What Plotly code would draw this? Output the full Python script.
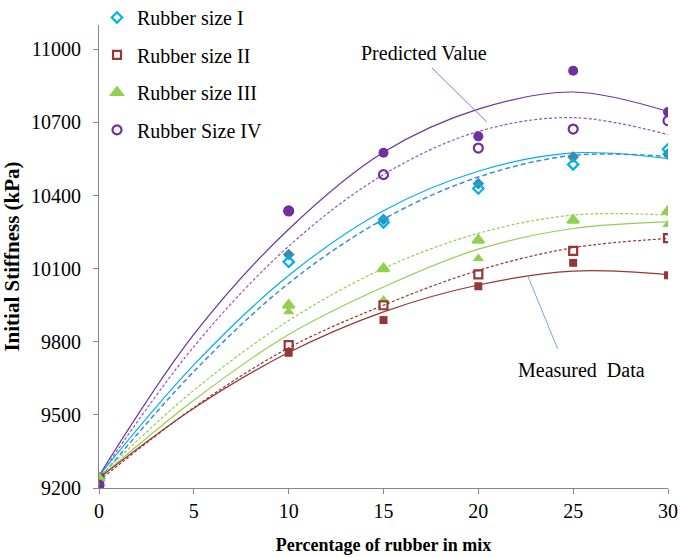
import plotly.graph_objects as go

# ---------------- data ----------------
x_pct = [0, 10, 15, 20, 25, 30]

# hollow markers (legend series)
size1_open = [9240, 10128, 10290, 10429, 10528, 10590]
size2_open = [9240, 9786, 9950, 10077, 10173, 10225]
size3_open = [9240, 9950, 10100, 10217, 10299, 10336]
size4_open = [9212, 10337, 10486, 10595, 10673, 10707]

# filled markers
size1_fill = [9240, 10158, 10302, 10449, 10558, 10571]
size2_fill = [9240, 9755, 9889, 10028, 10124, 10073]
size3_fill = [9240, 9923, 9971, 10142, 10299, 10281]
size4_fill = [9212, 10337, 10576, 10643, 10912, 10743]

# fitted curves
x_curve = [0, 5, 10, 15, 20, 25, 30]
size1_measured = [9250, 9705, 10072, 10338, 10500, 10575, 10552]
size1_predicted = [9235, 9678, 10040, 10303, 10476, 10565, 10560]
size2_measured = [9240, 9527, 9756, 9923, 10033, 10090, 10076]
size2_predicted = [9230, 9530, 9775, 9950, 10093, 10186, 10224]
size3_measured = [9240, 9560, 9830, 10025, 10180, 10265, 10292]
size3_predicted = [9245, 9601, 9887, 10101, 10245, 10320, 10320]
size4_measured = [9250, 9830, 10262, 10578, 10755, 10825, 10745]
size4_predicted = [9245, 9780, 10192, 10486, 10663, 10720, 10650]

x_ticks = [0, 5, 10, 15, 20, 25, 30]
y_ticks = [9200, 9500, 9800, 10100, 10400, 10700, 11000]

names = ["Rubber size I", "Rubber size II", "Rubber size III", "Rubber Size IV"]

# ---------------- styles ----------------
FONT = "Liberation Serif, Times New Roman, serif"
c_purple = "#7030A0"
c_purple_d = "#8E58C4"
c_blue = "#00B0F0"
c_blue_d = "#3D8BD4"
c_teal = "#3A8CAB"
c_green = "#92D050"
c_red = "#953735"

fig = go.Figure()

curves = [
    (size4_measured, c_purple, "solid", 1.2),
    (size4_predicted, c_purple_d, "3px,2px", 1.2),
    (size1_measured, c_blue, "solid", 1.2),
    (size1_predicted, c_blue_d, "5px,3px", 1.5),
    (size3_predicted, c_green, "3px,2px", 1.2),
    (size3_measured, c_green, "solid", 1.2),
    (size2_predicted, c_red, "3px,2px", 1.2),
    (size2_measured, c_red, "solid", 1.2),
]
for ys, col, dash, w in curves:
    fig.add_trace(go.Scatter(x=x_curve, y=ys, mode="lines", showlegend=False,
                             line=dict(color=col, width=w, dash=dash, shape="spline", smoothing=1.0),
                             hoverinfo="skip"))

# filled markers
filled = [
    (size1_fill, c_teal, "diamond", 9),
    (size2_fill, c_red, "square", 8),
    (size3_fill, c_green, "triangle-up", 10),
    (size4_fill, c_purple, "circle", 10),
]
for ys, col, sym, sz in filled:
    fig.add_trace(go.Scatter(x=x_pct, y=ys, mode="markers", showlegend=False,
                             marker=dict(color=col, symbol=sym, size=sz,
                                         line=dict(color=col, width=0))))

# hollow markers (legend)
hollow = [
    (size1_open, c_blue, "diamond-open", 8),
    (size2_open, c_red, "square-open", 8),
    (size3_open, c_green, "triangle-up", 10),
    (size4_open, c_purple, "circle-open", 9),
]
for i, (ys, col, sym, sz) in enumerate(hollow):
    fig.add_trace(go.Scatter(x=x_pct, y=ys, mode="markers", name=names[i],
                             legendgroup=f"g{i}",
                             marker=dict(color=col, symbol=sym, size=sz,
                                         line=dict(color=col, width=2.2))))

# annotation pointer lines
fig.add_shape(type="line", x0=17.55, y0=10924, x1=20.45, y1=10702,
              line=dict(color="#A66BC9", width=1))
fig.add_shape(type="line", x0=22.61, y0=10070, x1=24.18, y1=9771,
              line=dict(color="#6FA8DC", width=1))
fig.add_annotation(x=17.13, y=10985, text="Predicted Value", showarrow=False,
                   font=dict(family=FONT, size=20, color="#000000"))
fig.add_annotation(x=25.46, y=9684, text="Measured  Data", showarrow=False,
                   font=dict(family=FONT, size=20, color="#000000"))

axis_common = dict(showgrid=False, zeroline=False, showline=True, linecolor="#868686",
                   linewidth=1, ticks="outside", ticklen=5, tickcolor="#868686",
                   automargin=False,
                   tickfont=dict(family=FONT, size=20, color="#000000"))

fig.update_xaxes(range=[0, 30], tickvals=x_ticks, ticktext=[str(v) for v in x_ticks],
                 title=dict(text="<b>Percentage of rubber in mix</b>",
                            font=dict(family=FONT, size=18, color="#000000"), standoff=17),
                 **axis_common)
fig.update_yaxes(range=[9200, 11100], tickvals=y_ticks, ticktext=[str(v) for v in y_ticks],
                 ticklabelstandoff=8,
                 title=dict(text="<b>Initial Stiffness (kPa)</b>",
                            font=dict(family=FONT, size=21, color="#000000"), standoff=11),
                 **axis_common)

fig.update_layout(
    width=680, height=557,
    margin=dict(l=99, r=12, t=25, b=69, autoexpand=False),
    paper_bgcolor="white", plot_bgcolor="white",
    font=dict(family=FONT, color="#000000"),
    legend=dict(x=-0.0035, y=1.0585, xanchor="left", yanchor="top",
                font=dict(family=FONT, size=20, color="#000000"),
                bgcolor="rgba(0,0,0,0)", traceorder="grouped", tracegroupgap=8.5,
                itemwidth=30),
)

# remove the default 8px page margin so the figure fills the window exactly
fig.write_html("out.html",
               config={"displayModeBar": False},
               post_script="document.body.style.margin='0';"
                           "document.body.style.overflow='hidden';")
